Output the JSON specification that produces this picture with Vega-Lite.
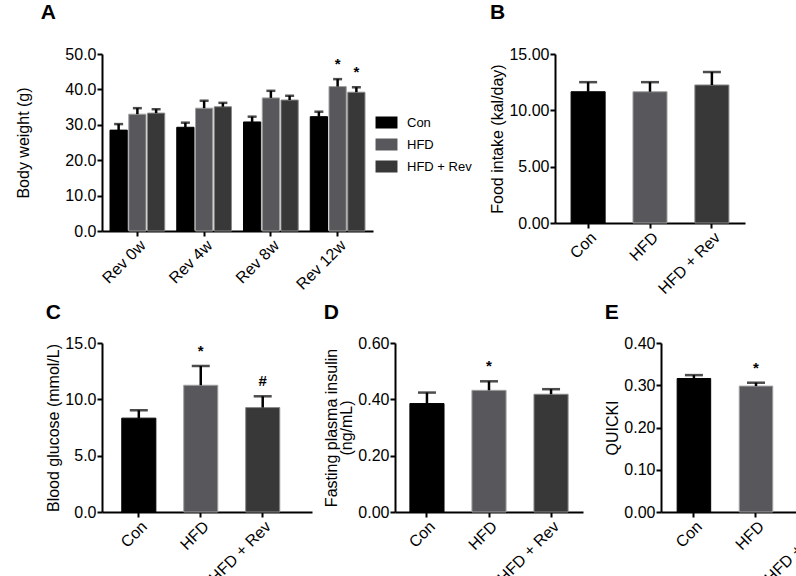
{
  "$schema": "https://vega.github.io/schema/vega-lite/v6.json",
  "padding": {"left": 0, "top": 2, "right": 0, "bottom": 0},
  "background": "white",
  "config": {
    "view": {"stroke": null},
    "font": "Liberation Sans",
    "axis": {"domainColor": "#000", "domainWidth": 2, "tickColor": "#000", "tickWidth": 2, "tickSize": 5, "labelColor": "#000", "labelFontSize": 16, "titleColor": "#000", "titleFontSize": 16, "titleFontWeight": "normal", "grid": false, "labelPadding": 1, "titlePadding": 3},
    "axisX": {"labelAngle": -45},
    "title": {"fontSize": 21, "fontWeight": "bold", "anchor": "start", "frame": "bounds", "color": "#000"}
  },
  "resolve": {"scale": {"color": "independent", "stroke": "independent"}, "legend": {"color": "independent", "stroke": "independent"}},
  "align": "none",
  "vconcat": [
    {
      "resolve": {"scale": {"color": "independent", "stroke": "independent"}, "legend": {"color": "independent", "stroke": "independent"}},
      "hconcat": [
        {
          "title": {"text": "A", "offset": 23, "dx": 40},
          "width": 271, "height": 177,
          "data": {"values": [
            {"period": "Rev 0w", "group": "Con", "value": 28.5, "err": 30.2, "sig": ""},
            {"period": "Rev 0w", "group": "HFD", "value": 33.0, "err": 34.7, "sig": ""},
            {"period": "Rev 0w", "group": "HFD + Rev", "value": 33.3, "err": 34.4, "sig": ""},
            {"period": "Rev 4w", "group": "Con", "value": 29.3, "err": 30.6, "sig": ""},
            {"period": "Rev 4w", "group": "HFD", "value": 34.7, "err": 36.8, "sig": ""},
            {"period": "Rev 4w", "group": "HFD + Rev", "value": 35.1, "err": 36.2, "sig": ""},
            {"period": "Rev 8w", "group": "Con", "value": 30.8, "err": 32.3, "sig": ""},
            {"period": "Rev 8w", "group": "HFD", "value": 37.6, "err": 39.6, "sig": ""},
            {"period": "Rev 8w", "group": "HFD + Rev", "value": 37.0, "err": 38.2, "sig": ""},
            {"period": "Rev 12w", "group": "Con", "value": 32.3, "err": 33.7, "sig": ""},
            {"period": "Rev 12w", "group": "HFD", "value": 40.8, "err": 42.9, "sig": "*"},
            {"period": "Rev 12w", "group": "HFD + Rev", "value": 39.2, "err": 40.6, "sig": "*"}
          ]},
          "encoding": {
            "x": {"field": "period", "type": "nominal", "sort": ["Rev 0w", "Rev 4w", "Rev 8w", "Rev 12w"], "scale": {"paddingInner": 0.18, "paddingOuter": 0.12}, "axis": {"title": null}},
            "xOffset": {"field": "group", "type": "nominal", "sort": ["Con", "HFD", "HFD + Rev"], "scale": {"paddingInner": 0.08, "paddingOuter": 0}},
            "y": {"field": "value", "type": "quantitative", "title": [" ", " ", " ", "Body weight (g)"], "scale": {"domain": [0, 50]}, "axis": {"values": [0, 10, 20, 30, 40, 50], "format": ".1f", "titleLineHeight": 15}}
          },
          "layer": [
            {"mark": {"type": "bar", "strokeWidth": 1},
             "encoding": {
               "color": {"field": "group", "type": "nominal", "scale": {"domain": ["Con", "HFD", "HFD + Rev"], "range": ["#000000", "#58575c", "#383838"]},
                 "legend": {"title": " ", "titleFontSize": 10, "titlePadding": 52, "orient": "right", "offset": 7, "padding": 0, "symbolType": "M-1.83,-1H1.83V1H-1.83Z", "symbolSize": 144, "symbolStrokeWidth": 0, "labelFontSize": 13, "labelColor": "#000", "labelOffset": 14, "rowPadding": 8}},
               "stroke": {"field": "group", "type": "nominal", "scale": {"domain": ["Con", "HFD", "HFD + Rev"], "range": ["#000000", "#a0a0a0", "#8a8a8a"]}, "legend": null}
             }},
            {"mark": {"type": "rule", "color": "#000", "strokeWidth": 2.5}, "encoding": {"y2": {"field": "err"}}},
            {"mark": {"type": "tick", "color": "#000", "thickness": 2.5, "size": 9}, "encoding": {"y": {"field": "err", "type": "quantitative", "title": [" ", " ", " ", "Body weight (g)"]}}},
            {"mark": {"type": "text", "dy": -15, "fontSize": 15, "fontWeight": "bold", "baseline": "middle"}, "encoding": {"y": {"field": "err", "type": "quantitative", "title": [" ", " ", " ", "Body weight (g)"]}, "text": {"field": "sig"}}}
          ]
        },
        {
          "title": {"text": "B", "offset": 23},
          "width": 190, "height": 169,
          "data": {"values": [
            {"group": "Con", "value": 11.65, "err": 12.5, "sig": ""},
            {"group": "HFD", "value": 11.65, "err": 12.5, "sig": ""},
            {"group": "HFD + Rev", "value": 12.25, "err": 13.4, "sig": ""}
          ]},
          "encoding": {
            "x": {"field": "group", "type": "nominal", "sort": ["Con", "HFD", "HFD + Rev"], "scale": {"paddingInner": 0.45, "paddingOuter": 0.26}, "axis": {"title": null}},
            "y": {"field": "value", "type": "quantitative", "title": "Food intake (kal/day)", "scale": {"domain": [0, 15]}, "axis": {"values": [0, 5, 10, 15], "format": ".2f"}}
          },
          "layer": [
            {"mark": {"type": "bar", "strokeWidth": 1},
             "encoding": {
               "color": {"field": "group", "type": "nominal", "scale": {"domain": ["Con", "HFD", "HFD + Rev"], "range": ["#000000", "#58575c", "#383838"]}, "legend": null},
               "stroke": {"field": "group", "type": "nominal", "scale": {"domain": ["Con", "HFD", "HFD + Rev"], "range": ["#000000", "#a0a0a0", "#8a8a8a"]}, "legend": null}
             }},
            {"mark": {"type": "rule", "color": "#000", "strokeWidth": 2.5}, "encoding": {"y2": {"field": "err"}}},
            {"mark": {"type": "tick", "color": "#000", "thickness": 2.5, "size": 18}, "encoding": {"y": {"field": "err", "type": "quantitative", "title": "Food intake (kal/day)"}}}
          ]
        }
      ],
      "spacing": 17
    },
    {
      "resolve": {"scale": {"color": "independent", "stroke": "independent"}, "legend": {"color": "independent", "stroke": "independent"}},
      "hconcat": [
        {
          "title": {"text": "C", "offset": 12},
          "width": 210, "height": 169,
          "data": {"values": [
            {"group": "Con", "value": 8.33, "err": 9.03, "sig": ""},
            {"group": "HFD", "value": 11.25, "err": 12.96, "sig": "*"},
            {"group": "HFD + Rev", "value": 9.27, "err": 10.27, "sig": "#"}
          ]},
          "encoding": {
            "x": {"field": "group", "type": "nominal", "sort": ["Con", "HFD", "HFD + Rev"], "scale": {"paddingInner": 0.45, "paddingOuter": 0.42, "align": 0.38}, "axis": {"title": null}},
            "y": {"field": "value", "type": "quantitative", "title": "Blood glucose (mmol/L)", "scale": {"domain": [0, 15]}, "axis": {"values": [0, 5, 10, 15], "format": ".1f"}}
          },
          "layer": [
            {"mark": {"type": "bar", "strokeWidth": 1},
             "encoding": {
               "color": {"field": "group", "type": "nominal", "scale": {"domain": ["Con", "HFD", "HFD + Rev"], "range": ["#000000", "#58575c", "#383838"]}, "legend": null},
               "stroke": {"field": "group", "type": "nominal", "scale": {"domain": ["Con", "HFD", "HFD + Rev"], "range": ["#000000", "#a0a0a0", "#8a8a8a"]}, "legend": null}
             }},
            {"mark": {"type": "rule", "color": "#000", "strokeWidth": 2.5}, "encoding": {"y2": {"field": "err"}}},
            {"mark": {"type": "tick", "color": "#000", "thickness": 2.5, "size": 18}, "encoding": {"y": {"field": "err", "type": "quantitative", "title": "Blood glucose (mmol/L)"}}},
            {"mark": {"type": "text", "dy": -15, "fontSize": 15, "fontWeight": "bold", "baseline": "middle"}, "encoding": {"y": {"field": "err", "type": "quantitative", "title": "Blood glucose (mmol/L)"}, "text": {"field": "sig"}}}
          ]
        },
        {
          "resolve": {"scale": {"color": "independent", "stroke": "independent"}, "legend": {"color": "independent", "stroke": "independent"}},
          "hconcat": [
            {
              "title": {"text": "D", "offset": 12},
              "width": 188, "height": 169,
              "data": {"values": [
                {"group": "Con", "value": 0.385, "err": 0.424, "sig": ""},
                {"group": "HFD", "value": 0.432, "err": 0.464, "sig": "*"},
                {"group": "HFD + Rev", "value": 0.418, "err": 0.436, "sig": ""}
              ]},
              "encoding": {
                "x": {"field": "group", "type": "nominal", "sort": ["Con", "HFD", "HFD + Rev"], "scale": {"paddingInner": 0.45, "paddingOuter": 0.24}, "axis": {"title": null}},
                "y": {"field": "value", "type": "quantitative", "title": ["Fasting plasma insulin", "(ng/mL)"], "scale": {"domain": [0, 0.6]}, "axis": {"values": [0, 0.2, 0.4, 0.6], "format": ".2f", "titleLineHeight": 15}}
              },
              "layer": [
                {"mark": {"type": "bar", "strokeWidth": 1},
                 "encoding": {
                   "color": {"field": "group", "type": "nominal", "scale": {"domain": ["Con", "HFD", "HFD + Rev"], "range": ["#000000", "#58575c", "#383838"]}, "legend": null},
                   "stroke": {"field": "group", "type": "nominal", "scale": {"domain": ["Con", "HFD", "HFD + Rev"], "range": ["#000000", "#a0a0a0", "#8a8a8a"]}, "legend": null}
                 }},
                {"mark": {"type": "rule", "color": "#000", "strokeWidth": 2.5}, "encoding": {"y2": {"field": "err"}}},
                {"mark": {"type": "tick", "color": "#000", "thickness": 2.5, "size": 18}, "encoding": {"y": {"field": "err", "type": "quantitative", "title": ["Fasting plasma insulin", "(ng/mL)"]}}},
                {"mark": {"type": "text", "dy": -15, "fontSize": 15, "fontWeight": "bold", "baseline": "middle"}, "encoding": {"y": {"field": "err", "type": "quantitative", "title": ["Fasting plasma insulin", "(ng/mL)"]}, "text": {"field": "sig"}}}
              ]
            },
            {
              "title": {"text": "E", "offset": 12},
              "width": 190, "height": 169,
              "data": {"values": [
                {"group": "Con", "value": 0.316, "err": 0.324, "sig": ""},
                {"group": "HFD", "value": 0.298, "err": 0.306, "sig": "*"},
                {"group": "HFD + Rev", "value": 0.309, "err": 0.315, "sig": "#"}
              ]},
              "encoding": {
                "x": {"field": "group", "type": "nominal", "sort": ["Con", "HFD", "HFD + Rev"], "scale": {"paddingInner": 0.46, "paddingOuter": 0.26}, "axis": {"title": null}},
                "y": {"field": "value", "type": "quantitative", "title": "QUICKI", "scale": {"domain": [0, 0.4]}, "axis": {"values": [0, 0.1, 0.2, 0.3, 0.4], "format": ".2f"}}
              },
              "layer": [
                {"mark": {"type": "bar", "strokeWidth": 1},
                 "encoding": {
                   "color": {"field": "group", "type": "nominal", "scale": {"domain": ["Con", "HFD", "HFD + Rev"], "range": ["#000000", "#58575c", "#383838"]}, "legend": null},
                   "stroke": {"field": "group", "type": "nominal", "scale": {"domain": ["Con", "HFD", "HFD + Rev"], "range": ["#000000", "#a0a0a0", "#8a8a8a"]}, "legend": null}
                 }},
                {"mark": {"type": "rule", "color": "#000", "strokeWidth": 2.5}, "encoding": {"y2": {"field": "err"}}},
                {"mark": {"type": "tick", "color": "#000", "thickness": 2.5, "size": 18}, "encoding": {"y": {"field": "err", "type": "quantitative", "title": "QUICKI"}}},
                {"mark": {"type": "text", "dy": -15, "fontSize": 15, "fontWeight": "bold", "baseline": "middle"}, "encoding": {"y": {"field": "err", "type": "quantitative", "title": "QUICKI"}, "text": {"field": "sig"}}}
              ]
            }
          ],
          "spacing": 21
        }
      ],
      "spacing": 11
    }
  ],
  "spacing": 5
}
